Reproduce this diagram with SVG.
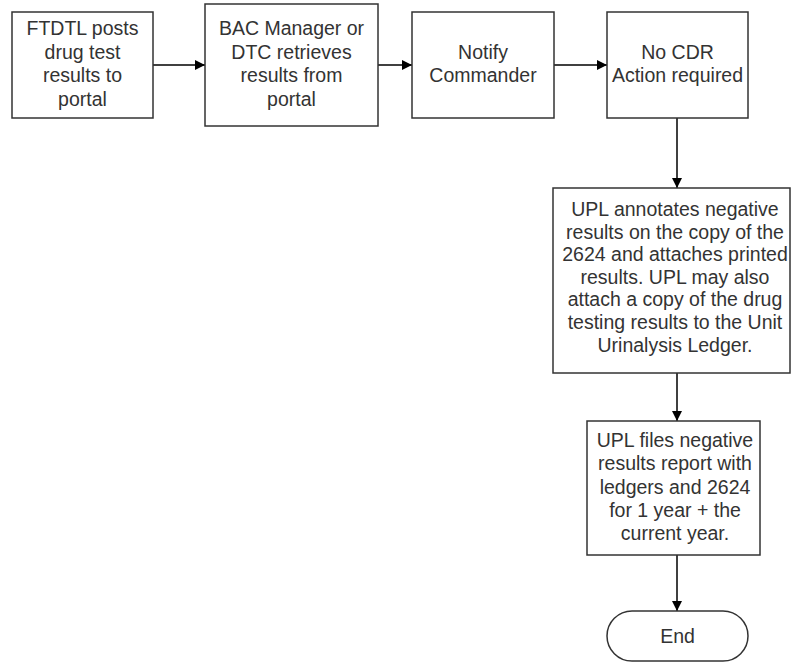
<svg xmlns="http://www.w3.org/2000/svg" width="792" height="663" viewBox="0 0 792 663">
<style>
.box{fill:#fff;stroke:#333;stroke-width:1.5}
.t{font-family:"Liberation Sans",Arial,sans-serif;font-size:19.5px;fill:#333;text-anchor:middle}
.c{stroke:#000;stroke-width:1.5;fill:none;marker-end:url(#ah)}
</style>
<defs>
<marker id="ah" viewBox="0 0 10 10" refX="10" refY="5" markerWidth="10" markerHeight="10" markerUnits="userSpaceOnUse" orient="auto">
<path d="M0,0 L10,5 L0,10 z" fill="#000"/>
</marker>
</defs>
<rect width="792" height="663" fill="#fff"/>
<g id="connectors">
<line class="c" x1="153" y1="65" x2="205" y2="65"/>
<line class="c" x1="378" y1="65" x2="412" y2="65"/>
<line class="c" x1="554" y1="65" x2="607" y2="65"/>
<line class="c" x1="677" y1="118" x2="677" y2="188"/>
<line class="c" x1="677" y1="373" x2="677" y2="421"/>
<line class="c" x1="677" y1="555" x2="677" y2="611"/>
</g>
<g id="n1">
<rect class="box" x="12" y="12" width="141" height="106"/>
<text class="t" x="82.5" y="35">FTDTL posts</text>
<text class="t" x="82.5" y="58.5">drug test</text>
<text class="t" x="82.5" y="82">results to</text>
<text class="t" x="82.5" y="105.5">portal</text>
</g>
<g id="n2">
<rect class="box" x="205" y="4" width="173" height="122"/>
<text class="t" x="291.5" y="35">BAC Manager or</text>
<text class="t" x="291.5" y="58.5">DTC retrieves</text>
<text class="t" x="291.5" y="82">results from</text>
<text class="t" x="291.5" y="105.5">portal</text>
</g>
<g id="n3">
<rect class="box" x="412" y="12" width="142" height="106"/>
<text class="t" x="483" y="58.5">Notify</text>
<text class="t" x="483" y="82">Commander</text>
</g>
<g id="n4">
<rect class="box" x="607" y="12" width="141" height="106"/>
<text class="t" x="677.5" y="58.5">No CDR</text>
<text class="t" x="677.5" y="82">Action required</text>
</g>
<g id="n5">
<rect class="box" x="553" y="188" width="237" height="185"/>
<text class="t" x="675" y="216">UPL annotates negative</text>
<text class="t" x="675" y="238.6">results on the copy of the</text>
<text class="t" x="675" y="261.2">2624 and attaches printed</text>
<text class="t" x="675" y="283.8">results. UPL may also</text>
<text class="t" x="675" y="306.4">attach a copy of the drug</text>
<text class="t" x="675" y="329">testing results to the Unit</text>
<text class="t" x="675" y="351.6">Urinalysis Ledger.</text>
</g>
<g id="n6">
<rect class="box" x="587" y="421" width="173" height="134"/>
<text class="t" x="675" y="447">UPL files negative</text>
<text class="t" x="675" y="470.3">results report with</text>
<text class="t" x="675" y="493.6">ledgers and 2624</text>
<text class="t" x="675" y="516.9">for 1 year + the</text>
<text class="t" x="675" y="540.2">current year.</text>
</g>
<g id="n7">
<rect class="box" x="607" y="611" width="141" height="50" rx="25" ry="25"/>
<text class="t" x="677.5" y="643">End</text>
</g>
</svg>
